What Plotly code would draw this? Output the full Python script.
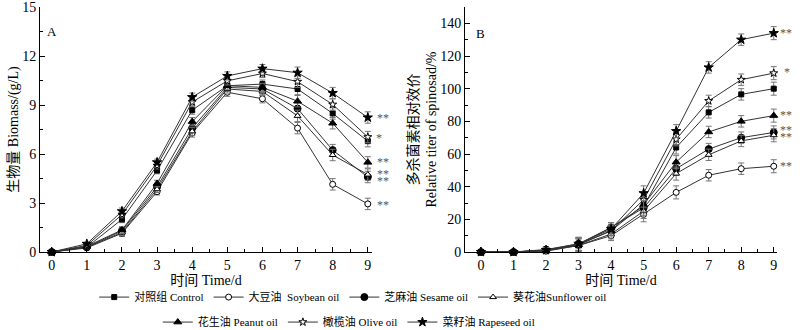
import plotly.graph_objects as go

days = [0, 1, 2, 3, 4, 5, 6, 7, 8, 9]

series_names = ["对照组 Control", "大豆油  Soybean oil", "芝麻油 Sesame oil", "葵花油Sunflower oil",
                "花生油 Peanut oil", "橄榄油 Olive oil", "菜籽油 Rapeseed oil"]

# Biomass (g/L)
bio_control = [0, 0.3, 2.0, 5.0, 8.7, 10.2, 10.3, 10.0, 8.5, 6.8]
bio_soybean = [0, 0.25, 1.15, 3.7, 7.3, 9.8, 9.4, 7.6, 4.15, 2.95]
bio_sesame = [0, 0.3, 1.3, 4.0, 7.6, 10.1, 10.0, 8.8, 6.25, 4.6]
bio_sunflower = [0, 0.3, 1.2, 3.85, 7.4, 10.0, 9.85, 8.35, 5.95, 4.75]
bio_peanut = [0, 0.35, 1.35, 4.2, 8.0, 10.2, 10.1, 9.25, 7.9, 5.5]
bio_olive = [0, 0.4, 2.3, 5.3, 9.2, 10.5, 10.95, 10.45, 9.05, 7.05]
bio_rapeseed = [0, 0.5, 2.5, 5.5, 9.5, 10.8, 11.25, 11.0, 9.75, 8.25]
bio_err = [0.05, 0.1, 0.2, 0.2, 0.25, 0.25, 0.25, 0.35, 0.35, 0.35]

# Relative titer of spinosad (%)
tit_control = [0, 0, 1, 4.5, 15, 28, 64, 85.5, 96.5, 100]
tit_soybean = [0, 0, 0.5, 4, 10, 23, 36.5, 47, 51, 52.5]
tit_sesame = [0, 0, 1.5, 5, 15, 27, 51, 63, 70, 73.2]
tit_sunflower = [0, 0, 0.8, 4, 11, 25, 48, 59.5, 68, 71.5]
tit_peanut = [0, 0, 1, 4.5, 13, 29, 55, 73.5, 80, 83.5]
tit_olive = [0, 0, 1, 4.5, 13, 32, 69, 92.5, 105.5, 109.5]
tit_rapeseed = [0, 0, 1.2, 5, 14, 36, 74, 113, 130, 134]
tit_err = [0.5, 0.5, 1.5, 4, 3, 4.5, 4, 3.5, 3.5, 4]

bio_series = [bio_control, bio_soybean, bio_sesame, bio_sunflower, bio_peanut, bio_olive, bio_rapeseed]
tit_series = [tit_control, tit_soybean, tit_sesame, tit_sunflower, tit_peanut, tit_olive, tit_rapeseed]

# significance labels at day 9
bio_sig_y = [8.25, 7.0, 5.5, 4.8, 4.35, 2.9]
bio_sig_txt = ["**", "*", "**", "**", "**", "**"]
tit_sig_y = [134, 110, 83.6, 74.8, 70.3, 52.5]
tit_sig_txt = ["**", "*", "**", "**", "**", "**"]

symbols = ["square", "circle", "circle", "triangle-up", "triangle-up", "star", "star"]
fills = ["black", "white", "black", "white", "black", "white", "black"]
sizes = [5, 6, 7, 6, 7, 6, 7]

FONT = "Liberation Serif, Noto Sans CJK SC, serif"

fig = go.Figure()
for i in range(7):
    common = dict(
        mode="lines+markers",
        line=dict(color="#333333", width=1),
        marker=dict(symbol=symbols[i], size=sizes[i], color=fills[i],
                    line=dict(color="black", width=1)),
        cliponaxis=False,
        name=series_names[i],
    )
    fig.add_trace(go.Scatter(
        x=days, y=bio_series[i], xaxis="x", yaxis="y",
        error_y=dict(type="data", array=bio_err, color="#777777", thickness=1, width=3),
        legend="legend" if i < 4 else "legend2", showlegend=True, **common))
    fig.add_trace(go.Scatter(
        x=days, y=tit_series[i], xaxis="x2", yaxis="y2",
        error_y=dict(type="data", array=tit_err, color="#777777", thickness=1, width=3),
        showlegend=False, **common))

annotations = []
for yv, t in zip(bio_sig_y, bio_sig_txt):
    annotations.append(dict(x=1.009 if t == "**" else 1.021, y=yv, xref="x domain", yref="y", text=t,
                            showarrow=False, xanchor="left" if t == "**" else "center", yanchor="middle",
                            font=dict(family=FONT, size=12, color="#555555")))
for yv, t in zip(tit_sig_y, tit_sig_txt):
    annotations.append(dict(x=1.003 if t == "**" else 1.032, y=yv, xref="x2 domain", yref="y2", text=t,
                            showarrow=False, xanchor="left" if t == "**" else "center", yanchor="middle",
                            font=dict(family=FONT, size=12, color="#555555")))
annotations.append(dict(x=0, y=13.5, xref="x", yref="y", text="A", showarrow=False,
                        xanchor="center", yanchor="middle", font=dict(family=FONT, size=13, color="black")))
annotations.append(dict(x=0, y=133.5, xref="x2", yref="y2", text="B", showarrow=False,
                        xanchor="center", yanchor="middle", font=dict(family=FONT, size=13, color="black")))

axis_common = dict(
    showline=True, linecolor="black", linewidth=1, showgrid=False, zeroline=False,
    ticks="inside", ticklen=5, tickcolor="black", tickwidth=1, automargin=False,
    tickfont=dict(family=FONT, size=14, color="black"),
)

fig.update_layout(
    width=800, height=330,
    margin=dict(l=40, r=23, t=7, b=78, autoexpand=False),
    paper_bgcolor="white", plot_bgcolor="white",
    font=dict(family=FONT, size=13, color="black"),
    xaxis=dict(domain=[0, 0.4505], range=[-0.333, 9.12], tickvals=days,
               minor=dict(dtick=0.5, tick0=0, ticks="inside", ticklen=3, tickcolor="black"),
               title=dict(text="时间 Time/d", font=dict(family=FONT, size=14), standoff=1),
               **axis_common),
    yaxis=dict(range=[0, 15.03], tickvals=[0, 3, 6, 9, 12, 15],
               minor=dict(dtick=1.5, tick0=0, ticks="inside", ticklen=3, tickcolor="black"),
               title=dict(text="生物量 Biomass/(g/L)", font=dict(family=FONT, size=14), standoff=0),
               **axis_common),
    xaxis2=dict(domain=[0.5767, 1], range=[-0.49, 9.1], tickvals=days, anchor="y2",
                minor=dict(dtick=0.5, tick0=0, ticks="inside", ticklen=3, tickcolor="black"),
                title=dict(text="时间 Time/d", font=dict(family=FONT, size=14), standoff=1),
                **axis_common),
    yaxis2=dict(range=[0, 150], tickvals=[0, 20, 40, 60, 80, 100, 120, 140], anchor="x2",
                minor=dict(dtick=10, tick0=0, ticks="inside", ticklen=3, tickcolor="black"),
                title=dict(text="多杀菌素相对效价<br>Relative titer of spinosad/%",
                           font=dict(family=FONT, size=14), standoff=0),
                **axis_common),
    legend=dict(orientation="h", x=0.425, y=-0.184, xanchor="center", yanchor="middle",
                font=dict(family=FONT, size=11), bgcolor="rgba(0,0,0,0)", itemwidth=30),
    legend2=dict(orientation="h", x=0.419, y=-0.286, xanchor="center", yanchor="middle",
                 font=dict(family=FONT, size=11), bgcolor="rgba(0,0,0,0)", itemwidth=30),
    annotations=annotations,
    showlegend=True,
)

fig.write_html("out.html", config={"displayModeBar": False},
               post_script="document.body.style.margin='0';document.body.style.overflow='hidden';")
